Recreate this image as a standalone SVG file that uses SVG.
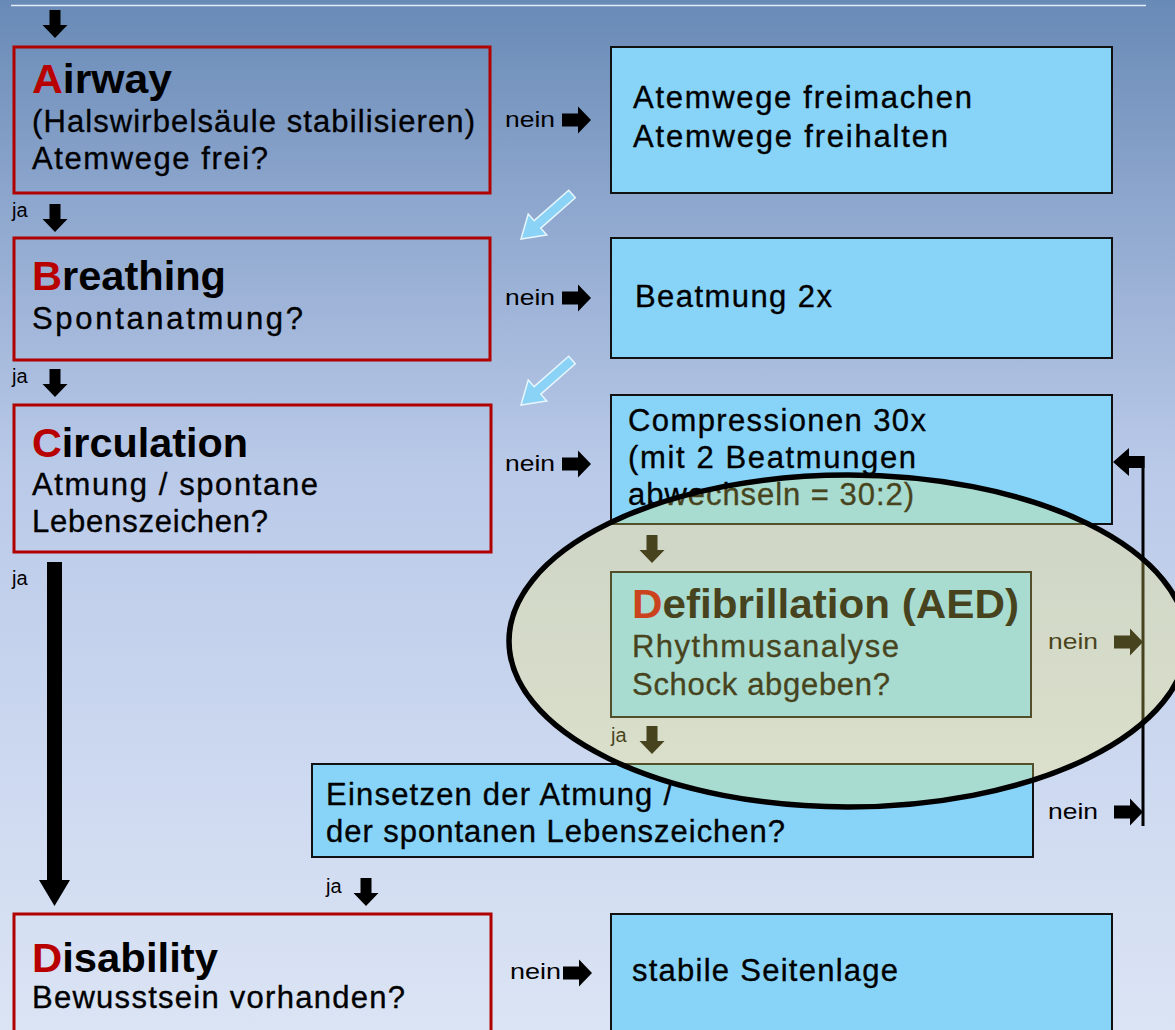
<svg xmlns="http://www.w3.org/2000/svg" width="1175" height="1030" viewBox="0 0 1175 1030">
<defs>
<linearGradient id="bg" x1="0" y1="0" x2="0" y2="1">
<stop offset="0" stop-color="#688ab6"/>
<stop offset="0.2" stop-color="#8ea7ce"/>
<stop offset="0.45" stop-color="#b9c9e8"/>
<stop offset="0.75" stop-color="#cdd9f0"/>
<stop offset="1" stop-color="#dbe4f4"/>
</linearGradient>
<path id="darr" d="M-5.5,0 H5.5 V15 H12.5 L0,28 L-12.5,15 H-5.5 Z"/>
<path id="rarr" d="M0,-6.5 H16 V-13.5 L29,0 L16,13.5 V6.5 H0 Z"/>
<path id="diag" d="M0,-5 H46 V-14 L68,0 L46,14 V5 H0 Z"/>
<style>
.red{fill:none;stroke:#b00000;stroke-width:3}
.blue{fill:#88d4f9;stroke:#111;stroke-width:2}
.t{font-family:"Liberation Sans",Arial,sans-serif;fill:#000}
.title{font-size:40px;font-weight:bold}
.sub{font-size:31px;stroke:#000;stroke-width:0.35}
.lbl{font-size:22px}
.ja{font-size:20px}
.rl{fill:#b80000;stroke:none}
.arr{fill:#000}
.diag{fill:#8ad3f6;stroke:#e8f6ff;stroke-width:1.5}
</style>
</defs>
<rect x="0" y="0" width="1175" height="1030" fill="url(#bg)"/>
<line x1="11" y1="5.5" x2="1146" y2="5.5" stroke="#e4ecf8" stroke-width="1.5"/>

<g id="connectors">
<use href="#darr" class="arr" x="55" y="10"/>
<use href="#darr" class="arr" x="55" y="204"/>
<use href="#darr" class="arr" x="55" y="369"/>
<use href="#rarr" class="arr" x="562" y="120"/>
<use href="#rarr" class="arr" x="562" y="298"/>
<use href="#rarr" class="arr" x="562" y="464"/>
<use href="#rarr" class="arr" x="563" y="973"/>
<use href="#diag" class="diag" transform="translate(572,194) rotate(138.6)"/>
<use href="#diag" class="diag" transform="translate(572,360) rotate(138.6)"/>
<path class="arr" d="M47,562 H62 V880 H70 L54.5,906 L39,880 H47 Z"/>
<use href="#darr" class="arr" x="652" y="535"/>
<use href="#darr" class="arr" x="652" y="726"/>
<use href="#darr" class="arr" x="366" y="878"/>
<use href="#rarr" class="arr" x="1114" y="642"/>
<use href="#rarr" class="arr" x="1114" y="812"/>
<line x1="1143" y1="456" x2="1143" y2="826" stroke="#000" stroke-width="3"/>
<path class="arr" d="M1144.5,456 H1129 V448 L1113,462 L1129,476 V468 H1144.5 Z"/>
<text class="t lbl" x="505" y="127" textLength="50" lengthAdjust="spacingAndGlyphs">nein</text>
<text class="t lbl" x="505" y="305" textLength="50" lengthAdjust="spacingAndGlyphs">nein</text>
<text class="t lbl" x="505" y="471" textLength="50" lengthAdjust="spacingAndGlyphs">nein</text>
<text class="t lbl" x="510" y="979" textLength="51" lengthAdjust="spacingAndGlyphs">nein</text>
<text class="t lbl" x="1048" y="649" textLength="50" lengthAdjust="spacingAndGlyphs">nein</text>
<text class="t lbl" x="1048" y="819" textLength="50" lengthAdjust="spacingAndGlyphs">nein</text>
<text class="t ja" x="12" y="217">ja</text>
<text class="t ja" x="12" y="383">ja</text>
<text class="t ja" x="12" y="585">ja</text>
<text class="t ja" x="611" y="742">ja</text>
<text class="t ja" x="326" y="893">ja</text>
</g>

<g id="airway">
<rect class="red" x="14" y="47" width="476" height="146"/>
<text class="t title" x="32" y="93" textLength="140" lengthAdjust="spacingAndGlyphs"><tspan class="rl">A</tspan>irway</text>
<text class="t sub" x="32" y="132" textLength="443" lengthAdjust="spacing">(Halswirbelsäule stabilisieren)</text>
<text class="t sub" x="32" y="169" textLength="236" lengthAdjust="spacing">Atemwege frei?</text>
</g>
<g id="atemwege">
<rect class="blue" x="611" y="47" width="501" height="146"/>
<text class="t sub" x="633" y="108" textLength="339" lengthAdjust="spacing">Atemwege freimachen</text>
<text class="t sub" x="633" y="147" textLength="315" lengthAdjust="spacing">Atemwege freihalten</text>
</g>
<g id="breathing">
<rect class="red" x="14" y="238" width="476" height="122"/>
<text class="t title" x="32" y="290" textLength="194" lengthAdjust="spacingAndGlyphs"><tspan class="rl">B</tspan>reathing</text>
<text class="t sub" x="32" y="329" textLength="271" lengthAdjust="spacing">Spontanatmung?</text>
</g>
<g id="beatmung">
<rect class="blue" x="611" y="238" width="501" height="120"/>
<text class="t sub" x="635" y="307" textLength="197" lengthAdjust="spacing">Beatmung 2x</text>
</g>
<g id="circulation">
<rect class="red" x="14" y="405" width="477" height="147"/>
<text class="t title" x="32" y="457" textLength="216" lengthAdjust="spacingAndGlyphs"><tspan class="rl">C</tspan>irculation</text>
<text class="t sub" x="32" y="495" textLength="286" lengthAdjust="spacing">Atmung / spontane</text>
<text class="t sub" x="32" y="532" textLength="236" lengthAdjust="spacing">Lebenszeichen?</text>
</g>
<g id="compressionen">
<rect class="blue" x="611" y="395" width="501" height="129"/>
<text class="t sub" x="628" y="431" textLength="298" lengthAdjust="spacing">Compressionen 30x</text>
<text class="t sub" x="628" y="468" textLength="288" lengthAdjust="spacing">(mit 2 Beatmungen</text>
<text class="t sub" x="628" y="505" textLength="286" lengthAdjust="spacing">abwechseln = 30:2)</text>
</g>
<g id="defibrillation">
<rect class="blue" x="611" y="572" width="420" height="145"/>
<text class="t title" x="632" y="618" textLength="387" lengthAdjust="spacingAndGlyphs"><tspan class="rl">D</tspan>efibrillation (AED)</text>
<text class="t sub" x="632" y="657" textLength="267" lengthAdjust="spacing">Rhythmusanalyse</text>
<text class="t sub" x="632" y="695" textLength="258" lengthAdjust="spacing">Schock abgeben?</text>
</g>
<g id="einsetzen">
<rect class="blue" x="312" y="764" width="721" height="93"/>
<text class="t sub" x="326" y="805" textLength="346" lengthAdjust="spacing">Einsetzen der Atmung /</text>
<text class="t sub" x="326" y="842" textLength="459" lengthAdjust="spacing">der spontanen Lebenszeichen?</text>
</g>
<g id="disability">
<rect class="red" x="14" y="914" width="477" height="130"/>
<text class="t title" x="32" y="972" textLength="186" lengthAdjust="spacingAndGlyphs"><tspan class="rl">D</tspan>isability</text>
<text class="t sub" x="32" y="1008" textLength="373" lengthAdjust="spacing">Bewusstsein vorhanden?</text>
</g>
<g id="seitenlage">
<rect class="blue" x="611" y="914" width="501" height="130"/>
<text class="t sub" x="632" y="981" textLength="266" lengthAdjust="spacing">stabile Seitenlage</text>
</g>

<g id="highlight">
<ellipse cx="848" cy="641" rx="339" ry="166" fill="#fff26a" fill-opacity="0.28" stroke="#000" stroke-width="5.5"/>
</g>
</svg>
